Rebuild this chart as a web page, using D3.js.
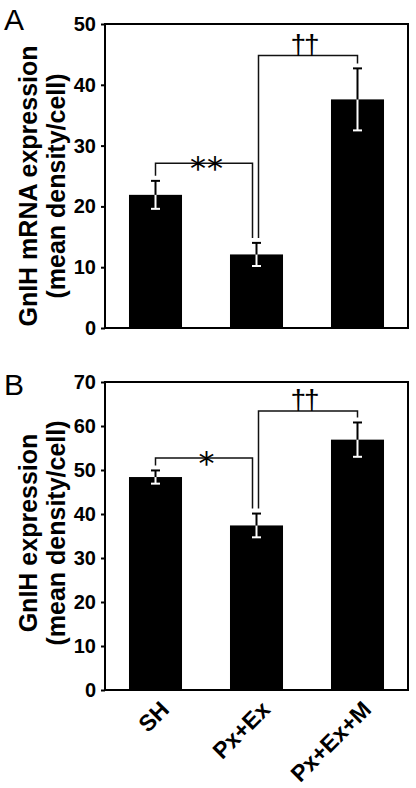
<!DOCTYPE html>
<html>
<head>
<meta charset="utf-8">
<script src="https://cdn.jsdelivr.net/npm/d3@7"></script>
<style>
  html, body { margin: 0; padding: 0; background: #fff; }
  svg { display: block; }
  text { font-family: "Liberation Sans", Arial, Helvetica, sans-serif; fill: #000; }
</style>
</head>
<body>
<svg id="chart" width="416" height="788"></svg>
<script>
// ---- data ----
const categories = ["SH", "Px+Ex", "Px+Ex+M"];

const meanA = [21.9, 12.1, 37.6];
const errA  = [2.3, 1.9, 5.1];
const ticksA = [0, 10, 20, 30, 40, 50];
const titleA = ["GnIH mRNA expression", "(mean density/cell)"];
const sigA = [
  { from: 0, to: 1, level: 27.1, label: "**" },
  { from: 1, to: 2, level: 44.8, label: "\u2020\u2020" }
];

const meanB = [48.4, 37.4, 56.9];
const errB  = [1.5, 2.7, 3.9];
const ticksB = [0, 10, 20, 30, 40, 50, 60, 70];
const titleB = ["GnIH expression", "(mean density/cell)"];
const sigB = [
  { from: 0, to: 1, level: 52.7, label: "*" },
  { from: 1, to: 2, level: 63.4, label: "\u2020\u2020" }
];

// ---- drawing ----
const svg = d3.select("#chart");
const left = 105, right = 408;

function panel(opt) {
  const { letter, letterY, top, bottom, ticks, means, errs, sig, title, titleY, xLabels } = opt;
  const g = svg.append("g");
  const x = d3.scaleBand().domain(categories).range([left, right])
    .paddingInner(0.475).paddingOuter(0.2375);
  const y = d3.scaleLinear().domain([0, d3.max(ticks)]).range([bottom, top]);
  const bw = x.bandwidth();
  const cx = i => x(categories[i]) + bw / 2;

  // bars
  g.selectAll("rect.bar").data(means).join("rect")
    .attr("class", "bar")
    .attr("x", (d, i) => x(categories[i]))
    .attr("width", bw)
    .attr("y", d => y(d))
    .attr("height", d => y(0) - y(d))
    .attr("fill", "#000");

  // error bars: white part inside bar, black part above
  const cap = 4.5;
  means.forEach((m, i) => {
    const c = cx(i), e = errs[i];
    g.append("line").attr("x1", c).attr("x2", c).attr("y1", y(m)).attr("y2", y(m - e))
      .attr("stroke", "#fff").attr("stroke-width", 2);
    g.append("line").attr("x1", c - cap).attr("x2", c + cap).attr("y1", y(m - e)).attr("y2", y(m - e))
      .attr("stroke", "#fff").attr("stroke-width", 2);
    g.append("line").attr("x1", c).attr("x2", c).attr("y1", y(m)).attr("y2", y(m + e))
      .attr("stroke", "#000").attr("stroke-width", 2);
    g.append("line").attr("x1", c - cap).attr("x2", c + cap).attr("y1", y(m + e)).attr("y2", y(m + e))
      .attr("stroke", "#000").attr("stroke-width", 2);
  });

  // significance brackets
  const gap = 5;
  sig.forEach(s => {
    const xf = cx(s.from) + (sig.some(o => o.to === s.from) ? 2 : 0);
    const xt = cx(s.to) - (sig.some(o => o.from === s.to) ? 4 : 0);
    const yl = y(s.level);
    const yf = y(means[s.from] + errs[s.from]) - gap;
    const yt = y(means[s.to] + errs[s.to]) - gap;
    g.append("path")
      .attr("d", `M${xf},${yf}V${yl}H${xt}V${yt}`)
      .attr("fill", "none").attr("stroke", "#111").attr("stroke-width", 1.5);
    const isDagger = s.label.indexOf("\u2020") >= 0;
    g.append("text")
      .attr("x", (xf + xt) / 2 + (isDagger ? -4 : 3))
      .attr("y", isDagger ? yl - 2 : yl + 16)
      .attr("text-anchor", "middle")
      .style("font-family", isDagger ? "'Liberation Sans', Arial, sans-serif" : "'DejaVu Sans', sans-serif")
      .style("font-size", isDagger ? "28px" : "32px")
      .style("letter-spacing", isDagger ? "-2px" : "1px")
      .attr("fill", "#000")
      .text(s.label);
  });

  // frame
  g.append("rect").attr("x", left).attr("y", top)
    .attr("width", right - left).attr("height", bottom - top)
    .attr("fill", "none").attr("stroke", "#000").attr("stroke-width", 2);

  // y axis
  const ax = g.append("g").attr("transform", `translate(${left},0)`)
    .call(d3.axisLeft(y).tickValues(ticks).tickSize(4).tickPadding(5).tickFormat(d3.format("d")));
  ax.select(".domain").remove();
  ax.selectAll(".tick line").attr("stroke", "#000").attr("stroke-width", 2);
  ax.selectAll(".tick text").style("font-size", "20px").style("font-weight", "bold")
    .style("font-family", "'Liberation Sans', Arial, sans-serif").attr("fill", "#000");

  // y title (two lines, rotated)
  const tt = g.append("text")
    .attr("transform", `translate(0,${titleY}) rotate(-90)`)
    .attr("text-anchor", "middle")
    .style("font-size", "25px").style("font-weight", "bold");
  tt.append("tspan").attr("x", 0).attr("y", 37).text(title[0]);
  tt.append("tspan").attr("x", 0).attr("y", 65).text(title[1]);

  // panel letter
  g.append("text").attr("x", 4).attr("y", letterY)
    .style("font-size", "30px").text(letter);

  // x labels
  if (xLabels) {
    g.selectAll("text.xl").data(categories).join("text")
      .attr("class", "xl")
      .attr("transform", (d, i) => `translate(${cx(i) + 15},${bottom + 21}) rotate(-45)`)
      .attr("text-anchor", "end")
      .style("font-size", "23px").style("font-weight", "bold")
      .text(d => d);
  }
}

panel({ letter: "A", letterY: 30, top: 24, bottom: 328, ticks: ticksA, means: meanA, errs: errA,
        sig: sigA, title: titleA, titleY: 186, xLabels: false });
panel({ letter: "B", letterY: 395, top: 382, bottom: 690, ticks: ticksB, means: meanB, errs: errB,
        sig: sigB, title: titleB, titleY: 533, xLabels: true });
</script>
</body>
</html>
